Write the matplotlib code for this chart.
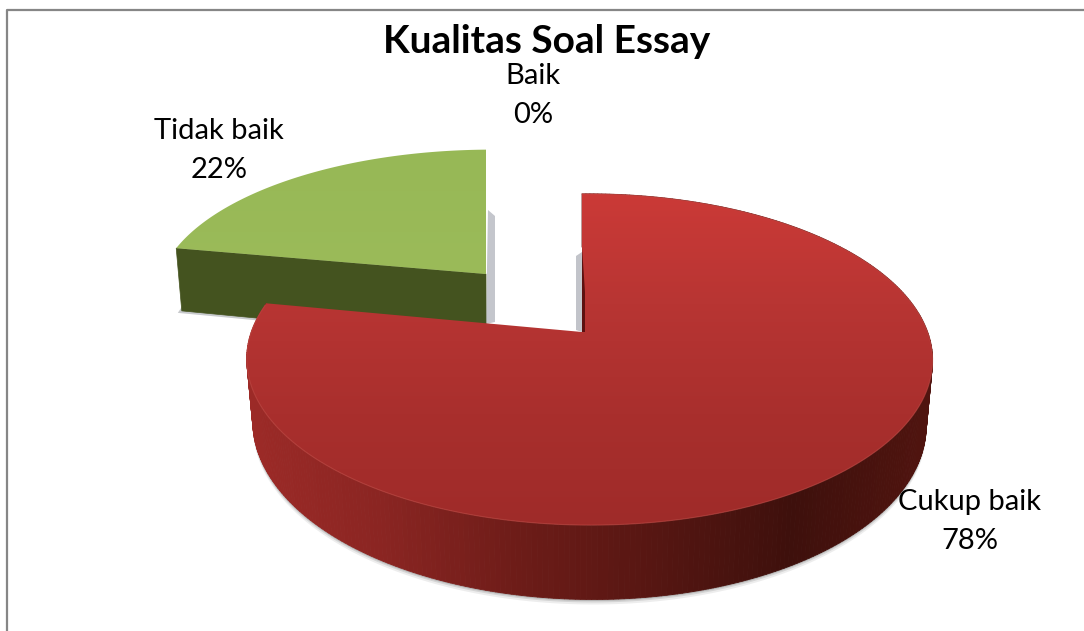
import numpy as np
import matplotlib
matplotlib.use("Agg")
import matplotlib.pyplot as plt
from matplotlib.collections import PolyCollection
from matplotlib.colors import LinearSegmentedColormap
from matplotlib.patches import Polygon

plt.rcParams["font.family"] = ["Lato", "DejaVu Sans"]

# ==========================================================
# DATA
# ==========================================================

title = "Kualitas Soal Essay"
categories = ["Baik", "Cukup baik", "Tidak baik"]
percent = [0, 78, 22]

# ==========================================================
# PIE GEOMETRY
# ==========================================================

W, H = 1084, 631

# apex x, apex y, x radius, y radius, wall height
red_geom = (582, 332, 338, 161, 62)
green_geom = (486, 274, 332, 145, 66)

TILT_Y = 0.166
TILT_X = -0.022


def project(phi, geom, radius=1.0, lower=False):
    # phi in degrees, clockwise from 12 o'clock, on a tilted disc
    cx, cy, ax_r, by_r, wall = geom
    t = np.radians(phi)
    xx = radius * np.sin(t)
    yy = radius * np.cos(t)
    s = 1 / (1 + TILT_Y * yy + TILT_X * xx)
    px = cx + xx * s * ax_r
    py = cy - yy * s * by_r
    if lower:
        px = cx + (px - cx) * 0.982
        py = py + wall * s
    return px, py


def wedge_outline(start, end, geom, lower=False):
    phi = np.linspace(start, end, 240)
    px, py = project(phi, geom, lower=lower)
    ax0, ay0 = project(0.0, geom, radius=0.0, lower=lower)
    return np.column_stack([np.r_[ax0, px], np.r_[ay0, py]])


def gradient_face(ax, verts, colors, zorder, horizontal=False):
    patch = Polygon(verts, closed=True, facecolor="none", edgecolor="none", zorder=zorder)
    ax.add_patch(patch)
    cmap = LinearSegmentedColormap.from_list("face", colors)
    ramp = np.linspace(0, 1, 256)
    ramp = ramp[None, :] if horizontal else ramp[:, None]
    x0, y0 = verts.min(axis=0)
    x1, y1 = verts.max(axis=0)
    im = ax.imshow(ramp, cmap=cmap, extent=(x0, x1, y1, y0), aspect="auto",
                   origin="upper", zorder=zorder)
    im.set_clip_path(patch)


# slice angles come from the percentages
angles = np.cumsum([0] + percent) * 3.6
red_start, red_end = angles[1], angles[2]
green_start, green_end = angles[2], angles[3]

# ==========================================================
# FIGURE
# ==========================================================

fig = plt.figure(figsize=(W / 100, H / 100), dpi=100, facecolor="white")
ax = fig.add_axes([0, 0, 1, 1])
ax.set_xlim(0, W)
ax.set_ylim(H, 0)
ax.axis("off")

# chart border, only the top and left sides
ax.plot([W, 7, 7], [10, 10, H], color="#868686", linewidth=1.6, zorder=0)

# ----- green slice -----

tip = project(green_start, green_geom)
tip_low = project(green_start, green_geom, lower=True)
apex = project(0.0, green_geom, radius=0.0)
apex_low = project(0.0, green_geom, radius=0.0, lower=True)

# soft shadow on the cut side of the slice
ax.add_patch(Polygon([(apex[0] + 2, apex[1] - 64), (apex[0] + 9, apex[1] - 58),
                      (apex_low[0] + 9, apex_low[1] - 18), (apex_low[0], apex_low[1] - 16)],
                     facecolor="#c4c6cc", edgecolor="none", zorder=1))
ax.add_patch(Polygon([(tip_low[0] - 4, tip_low[1] + 2), (apex_low[0], apex_low[1] + 2),
                      (apex_low[0], apex_low[1] - 8), (tip_low[0], tip_low[1] - 4)],
                     facecolor="#c8cacd", edgecolor="none", zorder=1))

ax.add_patch(Polygon([tip, apex, apex_low, tip_low], facecolor="#44531f",
                     edgecolor="#44531f", linewidth=0.5, zorder=2))
gradient_face(ax, wedge_outline(green_start, green_end, green_geom),
              ["#97b856", "#9bbb59"], 3)

# ----- red slice -----

# shadow under the outer wall only, so it stays out of the gap between slices
front = np.linspace(60, red_end - 5, 300)
low_rim = np.column_stack(project(front, red_geom, lower=True))
for offset, alpha in ((5, 0.12), (3, 0.2), (1.5, 0.3)):
    ax.add_patch(Polygon(low_rim + [0, offset], facecolor="#707070", edgecolor="none",
                         alpha=alpha, zorder=4))

steps = np.linspace(red_start, red_end, 361)
top_x, top_y = project(steps, red_geom)
low_x, low_y = project(steps, red_geom, lower=True)
quads = [[(top_x[i], top_y[i]), (top_x[i + 1], top_y[i + 1]),
          (low_x[i + 1], low_y[i + 1]), (low_x[i], low_y[i])]
         for i in range(len(steps) - 1)]
wall_cmap = LinearSegmentedColormap.from_list(
    "wall", ["#9c2a27", "#8a2522", "#6d1c18", "#561612", "#3e100c", "#50140f"])
wall_colors = wall_cmap((top_x[:-1] - top_x.min()) / (top_x.max() - top_x.min()))
ax.add_collection(PolyCollection(quads, facecolors=wall_colors, edgecolors=wall_colors,
                                 linewidths=0.6, zorder=5))

r_apex = project(0.0, red_geom, radius=0.0)

# shadow and dark inner edge left of the cut at 12 o'clock
ax.add_patch(Polygon([(r_apex[0] - 6, r_apex[1] - 76), (r_apex[0], r_apex[1] - 80),
                      (r_apex[0], r_apex[1]), (r_apex[0] - 6, r_apex[1] - 2)],
                     facecolor="#c2c4ca", edgecolor="none", zorder=4))

gradient_face(ax, wedge_outline(red_start, red_end, red_geom),
              ["#cb3a37", "#b83533", "#a92f2d", "#9f2b29"], 6)

ax.add_patch(Polygon([(r_apex[0], r_apex[1] - 85), (r_apex[0] + 3, r_apex[1] - 40),
                      (r_apex[0] + 3, r_apex[1]), (r_apex[0], r_apex[1])],
                     facecolor="#5e1110", edgecolor="none", zorder=7))

# lighter rim where the top face meets the wall
ax.plot(top_x[:-1], top_y[:-1], color="#bf4a45", linewidth=0.8, alpha=0.6, zorder=7)

# ==========================================================
# TEXT
# ==========================================================

ax.text(547, 53, title, fontsize=28, fontweight="bold", ha="center",
        va="baseline", color="black", zorder=10)

label_pos = [(533, 76), (970, 502), (219, 131)]
for name, value, (lx, ly) in zip(categories, percent, label_pos):
    ax.text(lx, ly, name, fontsize=21, ha="center", va="center", color="black", zorder=10)
    ax.text(lx, ly + 39, f"{value}%", fontsize=21, ha="center", va="center",
            color="black", zorder=10)

fig.savefig("out.png", dpi=100, facecolor="white")
